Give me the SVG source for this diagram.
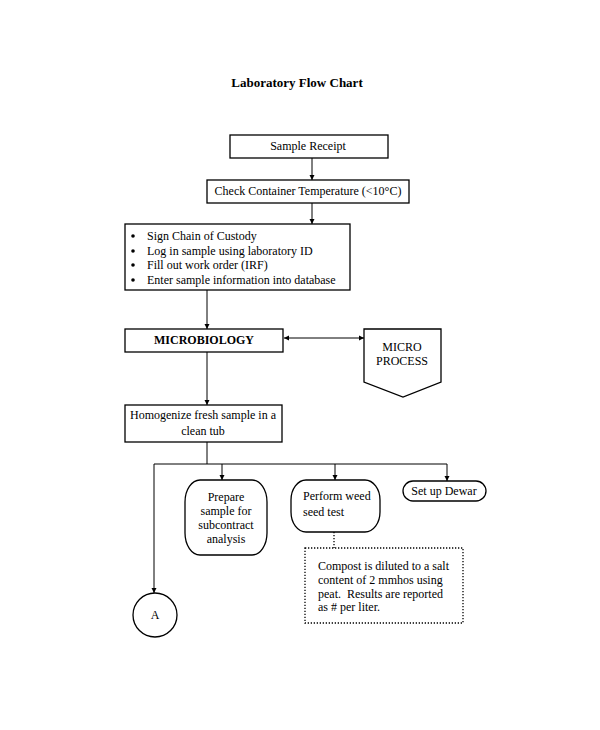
<svg xmlns="http://www.w3.org/2000/svg" width="600" height="730" viewBox="0 0 600 730">
<defs>
<marker id="ah" markerWidth="6" markerHeight="6" refX="5" refY="3" orient="auto" markerUnits="userSpaceOnUse">
<path d="M0,0.5 L5,3 L0,5.5 Z" fill="#000"/>
</marker>
<marker id="ahs" markerWidth="6" markerHeight="6" refX="0" refY="3" orient="auto" markerUnits="userSpaceOnUse">
<path d="M5,0.5 L0,3 L5,5.5 Z" fill="#000"/>
</marker>
</defs>
<style>
text{font-family:"Liberation Serif","Times New Roman",serif;font-size:12px;fill:#000}
.c{text-anchor:middle}
.b{font-weight:bold}
.box{fill:#fff;stroke:#000;stroke-width:1.3}
.ln{fill:none;stroke:#000;stroke-width:1}
.dot{fill:none;stroke:#000;stroke-width:1.3;stroke-dasharray:1.3 1.7}
</style>
<rect width="600" height="730" fill="#fff"/>
<text class="c b" x="297" y="87" style="font-size:13px">Laboratory Flow Chart</text>

<g id="connectors">
<line class="ln" x1="312" y1="158" x2="312" y2="180" marker-end="url(#ah)"/>
<line class="ln" x1="312" y1="203" x2="312" y2="224" marker-end="url(#ah)"/>
<line class="ln" x1="207" y1="290" x2="207" y2="329" marker-end="url(#ah)"/>
<line class="ln" x1="284" y1="338" x2="364" y2="338" marker-start="url(#ahs)" marker-end="url(#ah)"/>
<line class="ln" x1="207" y1="352" x2="207" y2="405" marker-end="url(#ah)"/>
<polyline class="ln" points="207,442 207,464"/>
<line class="ln" x1="154" y1="464" x2="447" y2="464"/>
<line class="ln" x1="154" y1="464" x2="154" y2="593" marker-end="url(#ah)"/>
<line class="ln" x1="222" y1="464" x2="222" y2="480" marker-end="url(#ah)"/>
<line class="ln" x1="335" y1="464" x2="335" y2="480" marker-end="url(#ah)"/>
<line class="ln" x1="447" y1="464" x2="447" y2="481" marker-end="url(#ah)"/>
<line class="dot" x1="334" y1="532" x2="334" y2="548"/>
</g>

<g id="sample-receipt">
<rect class="box" x="230" y="135" width="158" height="23"/>
<text class="c" x="308" y="150">Sample Receipt</text>
</g>

<g id="check-temperature">
<rect class="box" x="207" y="180" width="202" height="23"/>
<text class="c" x="308" y="195">Check Container Temperature (&lt;10°C)</text>
</g>

<g id="custody">
<rect class="box" x="125" y="224" width="225" height="66"/>
<g>
<circle cx="133" cy="236" r="1.8"/>
<circle cx="133" cy="251" r="1.8"/>
<circle cx="133" cy="265" r="1.8"/>
<circle cx="133" cy="280" r="1.8"/>
</g>
<text x="147" y="240">Sign Chain of Custody</text>
<text x="147" y="255">Log in sample using laboratory ID</text>
<text x="147" y="269">Fill out work order (IRF)</text>
<text x="147" y="284">Enter sample information into database</text>
</g>

<g id="microbiology">
<rect class="box" x="125" y="329" width="158" height="23"/>
<text class="c b" x="204" y="344">MICROBIOLOGY</text>
</g>

<g id="micro-process">
<polygon class="box" points="364,329 441,329 441,382 403,397 364,382"/>
<text class="c" x="402" y="351">MICRO</text>
<text class="c" x="402" y="365">PROCESS</text>
</g>

<g id="homogenize">
<rect class="box" x="125" y="405" width="157" height="37"/>
<text class="c" x="203" y="419">Homogenize fresh sample in a</text>
<text class="c" x="203" y="435">clean tub</text>
</g>

<g id="prepare">
<rect class="box" x="185" y="480" width="82" height="75" rx="15" ry="22"/>
<text class="c" x="226" y="501">Prepare</text>
<text class="c" x="226" y="515">sample for</text>
<text class="c" x="226" y="529">subcontract</text>
<text class="c" x="226" y="543">analysis</text>
</g>

<g id="weed-test">
<rect class="box" x="291" y="480" width="89" height="52" rx="15" ry="20"/>
<text x="303" y="500">Perform weed</text>
<text x="303" y="516">seed test</text>
</g>

<g id="dewar">
<rect class="box" x="403" y="481" width="83" height="20" rx="10" ry="10"/>
<text class="c" x="444" y="495">Set up Dewar</text>
</g>

<g id="compost-note">
<rect class="dot" x="305" y="548" width="158" height="75"/>
<text x="318" y="570">Compost is diluted to a salt</text>
<text x="318" y="584">content of 2 mmhos using</text>
<text x="318" y="598" xml:space="preserve">peat.  Results are reported</text>
<text x="318" y="611">as # per liter.</text>
</g>

<g id="connector-a">
<circle class="box" cx="155" cy="615" r="22"/>
<text class="c" x="155" y="619">A</text>
</g>
</svg>
